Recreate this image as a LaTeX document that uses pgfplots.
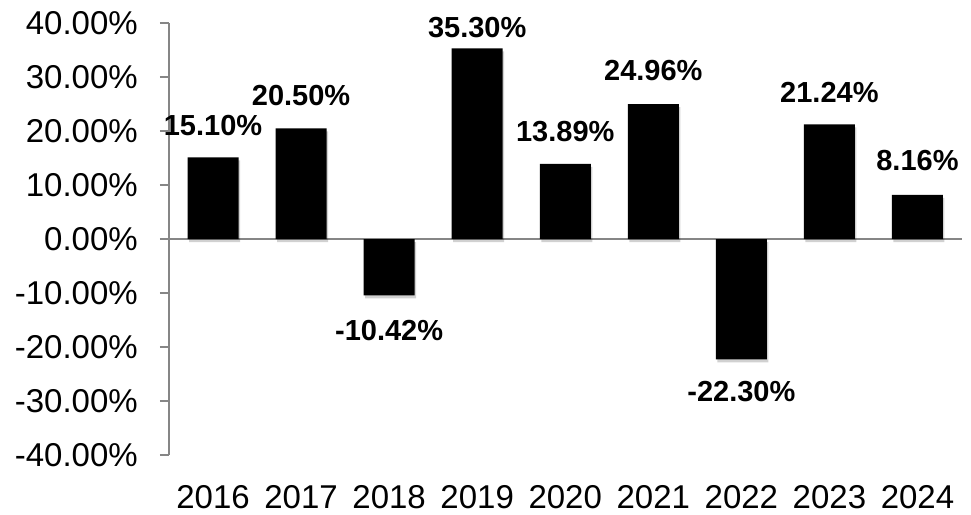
\documentclass[border=0pt]{standalone}
\usepackage{pgfplots}
\pgfplotsset{compat=1.18}
\usetikzlibrary{shadows}
\usepackage{fontspec}
\setmainfont{Liberation Sans}
\definecolor{axgray}{HTML}{868686}
\begin{document}
\begin{tikzpicture}
\begin{axis}[
  at={(0,0)}, anchor=south west,
  scale only axis, width=792.5pt, height=432pt,
  xmin=-0.5, xmax=8.5, ymin=-40, ymax=40,
  ybar, bar width=51pt,
  axis y line*=left, axis x line*=bottom,
  x axis line style={draw=none},
  y axis line style={draw=axgray, line width=1.5pt},
  xtick={0,1,2,3,4,5,6,7,8},
  xticklabels={2016,2017,2018,2019,2020,2021,2022,2023,2024},
  x tick style={draw=none},
  ytick={-40,-30,-20,-10,0,10,20,30,40},
  yticklabels={-40.00\%,-30.00\%,-20.00\%,-10.00\%,0.00\%,10.00\%,20.00\%,30.00\%,40.00\%},
  y tick style={draw=axgray, line width=1.5pt},
  tick align=outside, major tick length=9pt,
  tick label style={font=\fontsize{33}{40}\selectfont},
  xticklabel style={inner sep=0pt, yshift=-21pt, anchor=north},
  yticklabel style={inner sep=0pt, xshift=-22pt, anchor=east},
  point meta=explicit symbolic,
  visualization depends on={\thisrow{dy} \as \dy},
  nodes near coords={\pgfplotspointmeta\%},
  every node near coord/.append style={font=\bfseries\fontsize{29}{35}\selectfont, text=black, inner sep=0pt, anchor=south, yshift=\dy pt},
  clip=false,
]
\draw[axgray, line width=1.5pt] (axis cs:-0.5,0) -- (axis cs:8.5,0);
\addplot[fill=black, draw=none, drop shadow={shadow xshift=1.5pt, shadow yshift=-3pt, opacity=0.18, fill=black}] table[x=x, y=y, meta=lab] {
x y lab dy
0 15.10 15.10 21
1 20.50 20.50 22
2 -10.42 -10.42 -46
3 35.30 35.30 10
4 13.89 13.89 22
5 24.96 24.96 23
6 -22.30 -22.30 -43
7 21.24 21.24 21
8 8.16 8.16 24
};
\end{axis}
\pgfresetboundingbox
\path (-169pt,-59pt) rectangle (802pt,455pt);
\end{tikzpicture}
\end{document}
